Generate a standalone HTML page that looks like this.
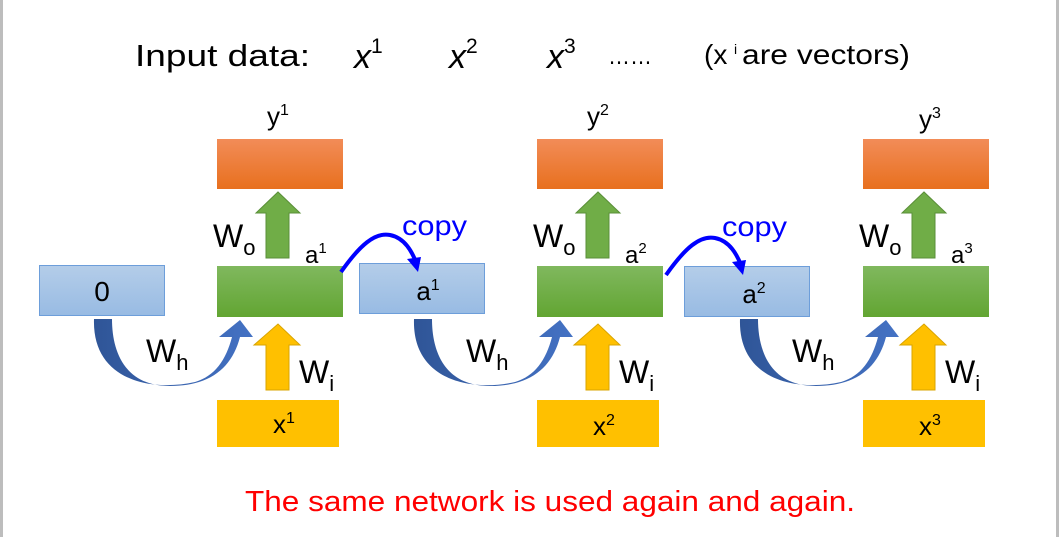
<!DOCTYPE html>
<html><head><meta charset="utf-8"><style>
html,body{margin:0;padding:0;background:#fff;}
svg{display:block;}
text{font-family:"Liberation Sans",sans-serif;}
</style></head><body>
<svg width="1059" height="537" viewBox="0 0 1059 537" xmlns="http://www.w3.org/2000/svg">
<defs>
<linearGradient id="gb" x1="0" y1="0" x2="0" y2="1"><stop offset="0" stop-color="#b4cde9"/><stop offset="1" stop-color="#98bbe3"/></linearGradient>
<linearGradient id="gg" x1="0" y1="0" x2="0" y2="1"><stop offset="0" stop-color="#80b85e"/><stop offset="1" stop-color="#62a532"/></linearGradient>
<linearGradient id="go" x1="0" y1="0" x2="0" y2="1"><stop offset="0" stop-color="#f28c58"/><stop offset="1" stop-color="#e8701e"/></linearGradient>
<linearGradient id="gc" x1="0" y1="0" x2="1" y2="0"><stop offset="0" stop-color="#2f5597"/><stop offset="1" stop-color="#4472c4"/></linearGradient>
<g id="unit">
  <rect x="217" y="139" width="126" height="50" fill="url(#go)"/>
  <rect x="217" y="266" width="126" height="51" fill="url(#gg)"/>
  <rect x="217" y="400" width="122" height="47" fill="#ffc000"/>
  <polygon points="266,258 289,258 289,213 300,213 278,192 256,213 266,213" fill="#70ad47" stroke="#5a8f38" stroke-width="1"/>
  <polygon points="266,390 289,390 289,345 300,345 278,324 254,345 266,345" fill="#ffc000" stroke="#d9a400" stroke-width="1"/>
  <path d="M94,319 C92,380 150,392 195,382 C215,376 226,360 232,337 L219,337 L240,320 L253,337 L240,337 C232,368 210,386 170,386 C125,386 112,352 112,319 Z" fill="url(#gc)"/>
  <text x="213" y="247" font-size="32">W<tspan font-size="22" dy="8">o</tspan></text>
  <text x="146" y="362" font-size="32">W<tspan font-size="22" dy="8">h</tspan></text>
  <text x="299" y="383" font-size="32">W<tspan font-size="22" dy="8">i</tspan></text>
</g>
</defs>
<rect x="0" y="0" width="3" height="537" fill="#bdbdbd"/>
<rect x="1056" y="0" width="3" height="537" fill="#bdbdbd"/>

<text x="135" y="66" font-size="31" textLength="175" lengthAdjust="spacingAndGlyphs">Input data:</text>
<text x="354" y="68" font-size="34" font-family="Liberation Serif,serif" font-style="italic">x<tspan font-size="21" dy="-15" font-style="normal">1</tspan></text>
<text x="449" y="68" font-size="34" font-family="Liberation Serif,serif" font-style="italic">x<tspan font-size="21" dy="-15" font-style="normal">2</tspan></text>
<text x="547" y="68" font-size="34" font-family="Liberation Serif,serif" font-style="italic">x<tspan font-size="21" dy="-15" font-style="normal">3</tspan></text>
<text x="608" y="64" font-size="24" textLength="44" lengthAdjust="spacingAndGlyphs">……</text>
<text x="704" y="64" font-size="28">(x</text>
<text x="734" y="54" font-size="14">i</text>
<text x="742" y="64" font-size="28" textLength="168" lengthAdjust="spacingAndGlyphs">are vectors)</text>

<rect x="39.5" y="265.5" width="125" height="50" fill="url(#gb)" stroke="#6d9eda"/>
<text x="102" y="301" font-size="28" text-anchor="middle">0</text>

<use href="#unit"/>
<use href="#unit" x="320"/>
<use href="#unit" x="646"/>

<text x="305" y="263" font-size="24">a<tspan font-size="15" dy="-10">1</tspan></text>
<text x="625" y="263" font-size="24">a<tspan font-size="15" dy="-10">2</tspan></text>
<text x="951" y="263" font-size="24">a<tspan font-size="15" dy="-10">3</tspan></text>

<text x="278" y="125" font-size="26" text-anchor="middle">y<tspan font-size="16" dy="-10">1</tspan></text>
<text x="598" y="125" font-size="26" text-anchor="middle">y<tspan font-size="16" dy="-10">2</tspan></text>
<text x="930" y="128" font-size="26" text-anchor="middle">y<tspan font-size="16" dy="-10">3</tspan></text>
<text x="284" y="433" font-size="26" text-anchor="middle">x<tspan font-size="16" dy="-10">1</tspan></text>
<text x="604" y="435" font-size="26" text-anchor="middle">x<tspan font-size="16" dy="-10">2</tspan></text>
<text x="930" y="435" font-size="26" text-anchor="middle">x<tspan font-size="16" dy="-10">3</tspan></text>

<rect x="359.5" y="263.5" width="125" height="50" fill="url(#gb)" stroke="#6d9eda"/>
<text x="428" y="300" font-size="26" text-anchor="middle">a<tspan font-size="16" dy="-10">1</tspan></text>
<rect x="684.5" y="266.5" width="125" height="50" fill="url(#gb)" stroke="#6d9eda"/>
<text x="754" y="303" font-size="26" text-anchor="middle">a<tspan font-size="16" dy="-10">2</tspan></text>

<path d="M341,272 C360,245 375,232 390,235 C405,238 412,252 416,262" fill="none" stroke="#0000ff" stroke-width="4"/>
<polygon points="407,259 421,257 418,272" fill="#0000ff"/>
<text x="402" y="235" font-size="28" fill="#0000ff" textLength="65" lengthAdjust="spacingAndGlyphs">copy</text>
<path d="M666,275 C685,248 700,235 715,238 C730,241 737,255 741,265" fill="none" stroke="#0000ff" stroke-width="4"/>
<polygon points="732,262 746,260 743,275" fill="#0000ff"/>
<text x="722" y="236" font-size="28" fill="#0000ff" textLength="65" lengthAdjust="spacingAndGlyphs">copy</text>

<text x="245" y="511" font-size="29" fill="#ff0000" textLength="610" lengthAdjust="spacingAndGlyphs">The same network is used again and again.</text>
</svg>
</body></html>
